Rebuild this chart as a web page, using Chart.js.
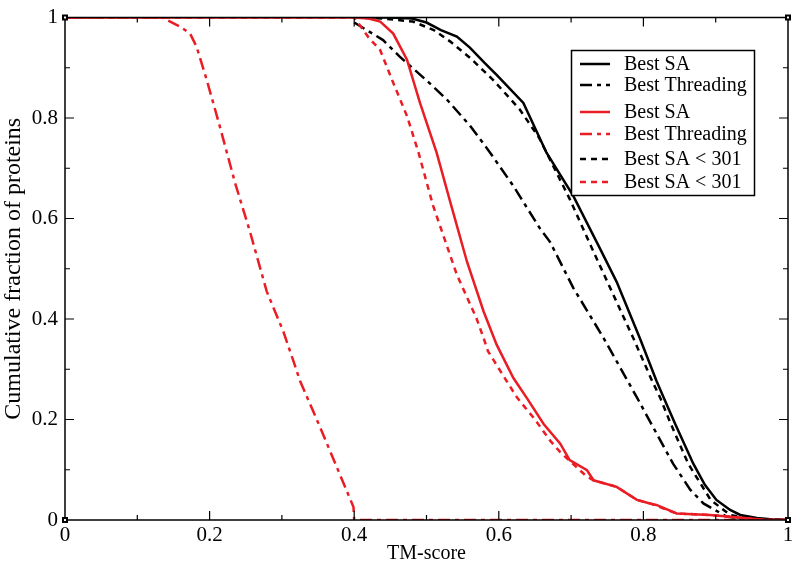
<!DOCTYPE html>
<html lang="en">
<head>
  <meta charset="UTF-8">
  <title>Cumulative fraction of proteins vs TM-score</title>
  <script src="https://cdn.jsdelivr.net/npm/chart.js"></script>
  <style>
    html, body { margin: 0; padding: 0; background: #fff; }
    #wrap { width: 800px; height: 570px; }
  </style>
</head>
<body>
<div id="wrap"><canvas id="tmChart" width="800" height="570"></canvas></div>

<script>
  // values (TM-score, cumulative fraction)
  const saBlackX = [0.40, 0.45, 0.48, 0.50, 0.52, 0.542, 0.56, 0.58, 0.597, 0.634, 0.666, 0.703, 0.740, 0.763, 0.795, 0.818, 0.828, 0.844, 0.869, 0.885, 0.901, 0.92, 0.934, 0.957, 0.98, 1.0];
  const saBlackY = [1.0, 1.0, 0.998, 0.99, 0.975, 0.962, 0.94, 0.91, 0.886, 0.830, 0.731, 0.645, 0.540, 0.474, 0.362, 0.277, 0.244, 0.191, 0.112, 0.07, 0.040, 0.02, 0.010, 0.004, 0.001, 0];

  const threadBlackX = [0.40, 0.44, 0.463, 0.50, 0.528, 0.56, 0.588, 0.620, 0.657, 0.671, 0.703, 0.745, 0.791, 0.841, 0.865, 0.883, 0.915, 0.94, 1.0];
  const threadBlackY = [0.99, 0.955, 0.922, 0.875, 0.837, 0.785, 0.731, 0.665, 0.580, 0.553, 0.462, 0.362, 0.244, 0.112, 0.06, 0.033, 0.007, 0.001, 0];

  const saRedX = [0.0, 0.40, 0.42, 0.436, 0.454, 0.473, 0.491, 0.514, 0.533, 0.556, 0.579, 0.597, 0.620, 0.640, 0.662, 0.685, 0.698, 0.722, 0.731, 0.763, 0.791, 0.809, 0.818, 0.846, 0.892, 0.924, 0.97, 1.0];
  const saRedY = [1.0, 1.0, 0.998, 0.992, 0.968, 0.916, 0.830, 0.731, 0.632, 0.514, 0.415, 0.349, 0.283, 0.24, 0.191, 0.152, 0.119, 0.099, 0.079, 0.066, 0.040, 0.033, 0.030, 0.013, 0.010, 0.006, 0.0, 0];

  const threadRedX = [0.0, 0.134, 0.159, 0.173, 0.182, 0.196, 0.214, 0.235, 0.256, 0.279, 0.302, 0.316, 0.325, 0.353, 0.399, 0.40, 1.0];
  const threadRedY = [1.0, 1.0, 0.982, 0.968, 0.942, 0.876, 0.784, 0.672, 0.573, 0.455, 0.375, 0.316, 0.277, 0.184, 0.026, 0.0, 0.0];

  const sa301BlackX = [0.40, 0.44, 0.481, 0.51, 0.533, 0.56, 0.592, 0.629, 0.656, 0.698, 0.731, 0.786, 0.812, 0.823, 0.838, 0.862, 0.893, 0.92, 0.95, 1.0];
  const sa301BlackY = [1.0, 0.998, 0.992, 0.975, 0.952, 0.92, 0.876, 0.817, 0.76, 0.639, 0.534, 0.362, 0.277, 0.244, 0.191, 0.112, 0.04, 0.01, 0.002, 0];

  const sa301RedX = [0.0, 0.40, 0.41, 0.42, 0.436, 0.454, 0.473, 0.489, 0.509, 0.542, 0.569, 0.579, 0.585, 0.625, 0.650, 0.671, 0.685, 0.722, 0.731, 0.763, 0.791, 0.809, 0.846, 0.892, 0.924, 0.97, 1.0];
  const sa301RedY = [1.0, 1.0, 0.98, 0.96, 0.935, 0.870, 0.804, 0.731, 0.626, 0.488, 0.402, 0.362, 0.336, 0.244, 0.20, 0.158, 0.135, 0.086, 0.079, 0.066, 0.040, 0.033, 0.013, 0.010, 0.006, 0.0, 0];

  const xTicks = [0, 0.2, 0.4, 0.6, 0.8, 1];
  const yTicks = [0, 0.2, 0.4, 0.6, 0.8, 1];

  const BLACK = '#000000';
  const RED = '#ea1c24';
  const SERIF = '"Liberation Serif", "DejaVu Serif", serif';

  const toPoints = (xs, ys) => xs.map((x, i) => ({ x: x, y: ys[i] }));

  function series(label, xs, ys, color, dash, order) {
    return {
      label: label,
      data: toPoints(xs, ys),
      borderColor: color,
      backgroundColor: color,
      borderWidth: 2.5,
      borderDash: dash,
      showLine: true,
      pointRadius: 0,
      tension: 0,
      order: order
    };
  }

  const DASHDOT = [12, 5, 4, 5];
  const DOTTED = [6, 5];

  // frame, inward ticks on all four sides and the little corner squares
  const framePlugin = {
    id: 'frame',
    afterDatasetsDraw(chart) {
      const { ctx, chartArea: a, scales } = chart;
      ctx.save();
      ctx.strokeStyle = BLACK;
      ctx.lineWidth = 1.5;
      ctx.strokeRect(a.left, a.top, a.right - a.left, a.bottom - a.top);
      ctx.lineWidth = 1.2;
      ctx.beginPath();
      for (let i = 1; i < 10; i++) {
        const v = i / 10;
        const len = (i % 2 === 0) ? 9 : 5;
        const px = scales.x.getPixelForValue(v);
        const py = scales.y.getPixelForValue(v);
        ctx.moveTo(px, a.bottom); ctx.lineTo(px, a.bottom - len);
        ctx.moveTo(px, a.top); ctx.lineTo(px, a.top + len);
        ctx.moveTo(a.left, py); ctx.lineTo(a.left + len, py);
        ctx.moveTo(a.right, py); ctx.lineTo(a.right - len, py);
      }
      ctx.stroke();
      [[a.left, a.top], [a.right, a.top], [a.left, a.bottom], [a.right, a.bottom]].forEach(([cx, cy]) => {
        ctx.fillStyle = BLACK;
        ctx.fillRect(cx - 3, cy - 3, 6, 6);
        ctx.fillStyle = '#fff';
        ctx.fillRect(cx - 1, cy - 1, 2, 2);
      });
      ctx.restore();
    }
  };

  // boxed legend like the original (top right, inside the plot)
  const legendRows = [64, 85, 112, 134, 159, 182];
  const boxPlugin = {
    id: 'boxLegend',
    afterDraw(chart) {
      const ctx = chart.ctx;
      ctx.save();
      ctx.fillStyle = '#fff';
      ctx.fillRect(571.5, 50.5, 183, 145);
      ctx.strokeStyle = BLACK;
      ctx.lineWidth = 1.5;
      ctx.strokeRect(571.5, 50.5, 183, 145);
      ctx.font = '20px ' + SERIF;
      ctx.textBaseline = 'middle';
      chart.data.datasets.forEach((ds, i) => {
        const y = legendRows[i];
        ctx.strokeStyle = ds.borderColor;
        ctx.lineWidth = 2.5;
        ctx.setLineDash(ds.borderDash);
        ctx.beginPath();
        ctx.moveTo(580, y);
        ctx.lineTo(610, y);
        ctx.stroke();
        ctx.setLineDash([]);
        ctx.fillStyle = BLACK;
        ctx.fillText(ds.label, 624, y + 1);
      });
      ctx.restore();
    }
  };

  const fmt = v => (v === 0 ? '0' : v === 1 ? '1' : v.toFixed(1));

  const ctx = document.getElementById('tmChart').getContext('2d');
  const tmChart = new Chart(ctx, {
    type: 'scatter',
    data: {
      datasets: [
        series('Best SA', saBlackX, saBlackY, BLACK, [], 2),
        series('Best Threading', threadBlackX, threadBlackY, BLACK, DASHDOT, 2),
        series('Best SA', saRedX, saRedY, RED, [], 1),
        series('Best Threading', threadRedX, threadRedY, RED, DASHDOT, 1),
        series('Best SA < 301', sa301BlackX, sa301BlackY, BLACK, DOTTED, 2),
        series('Best SA < 301', sa301RedX, sa301RedY, RED, DOTTED, 1)
      ]
    },
    options: {
      responsive: false,
      animation: false,
      layout: { padding: { top: 14, right: 12, left: 0, bottom: 0 } },
      plugins: {
        legend: { display: false },
        tooltip: { enabled: false }
      },
      scales: {
        x: {
          type: 'linear',
          min: 0,
          max: 1,
          afterBuildTicks: s => { s.ticks = xTicks.map(v => ({ value: v })); },
          afterFit: s => { s.height = 50; },
          grid: { display: false, drawTicks: false },
          border: { display: false },
          ticks: {
            padding: 5,
            color: BLACK,
            font: { family: SERIF, size: 21, lineHeight: 1 },
            callback: fmt
          },
          title: {
            display: true,
            text: 'TM-score',
            color: BLACK,
            font: { family: SERIF, size: 20, lineHeight: 1 },
            padding: { top: 0, bottom: 6 }
          }
        },
        y: {
          type: 'linear',
          min: 0,
          max: 1,
          afterBuildTicks: s => { s.ticks = yTicks.map(v => ({ value: v })); },
          afterFit: s => { s.width = 65; },
          grid: { display: false, drawTicks: false },
          border: { display: false },
          ticks: {
            padding: 7,
            color: BLACK,
            font: { family: SERIF, size: 21, lineHeight: 1 },
            callback: fmt
          },
          title: {
            display: true,
            text: 'Cumulative fraction of proteins',
            color: BLACK,
            font: { family: SERIF, size: 24, lineHeight: 1 },
            padding: { top: 2, bottom: 0 }
          }
        }
      }
    },
    plugins: [framePlugin, boxPlugin]
  });
</script>
</body>
</html>
